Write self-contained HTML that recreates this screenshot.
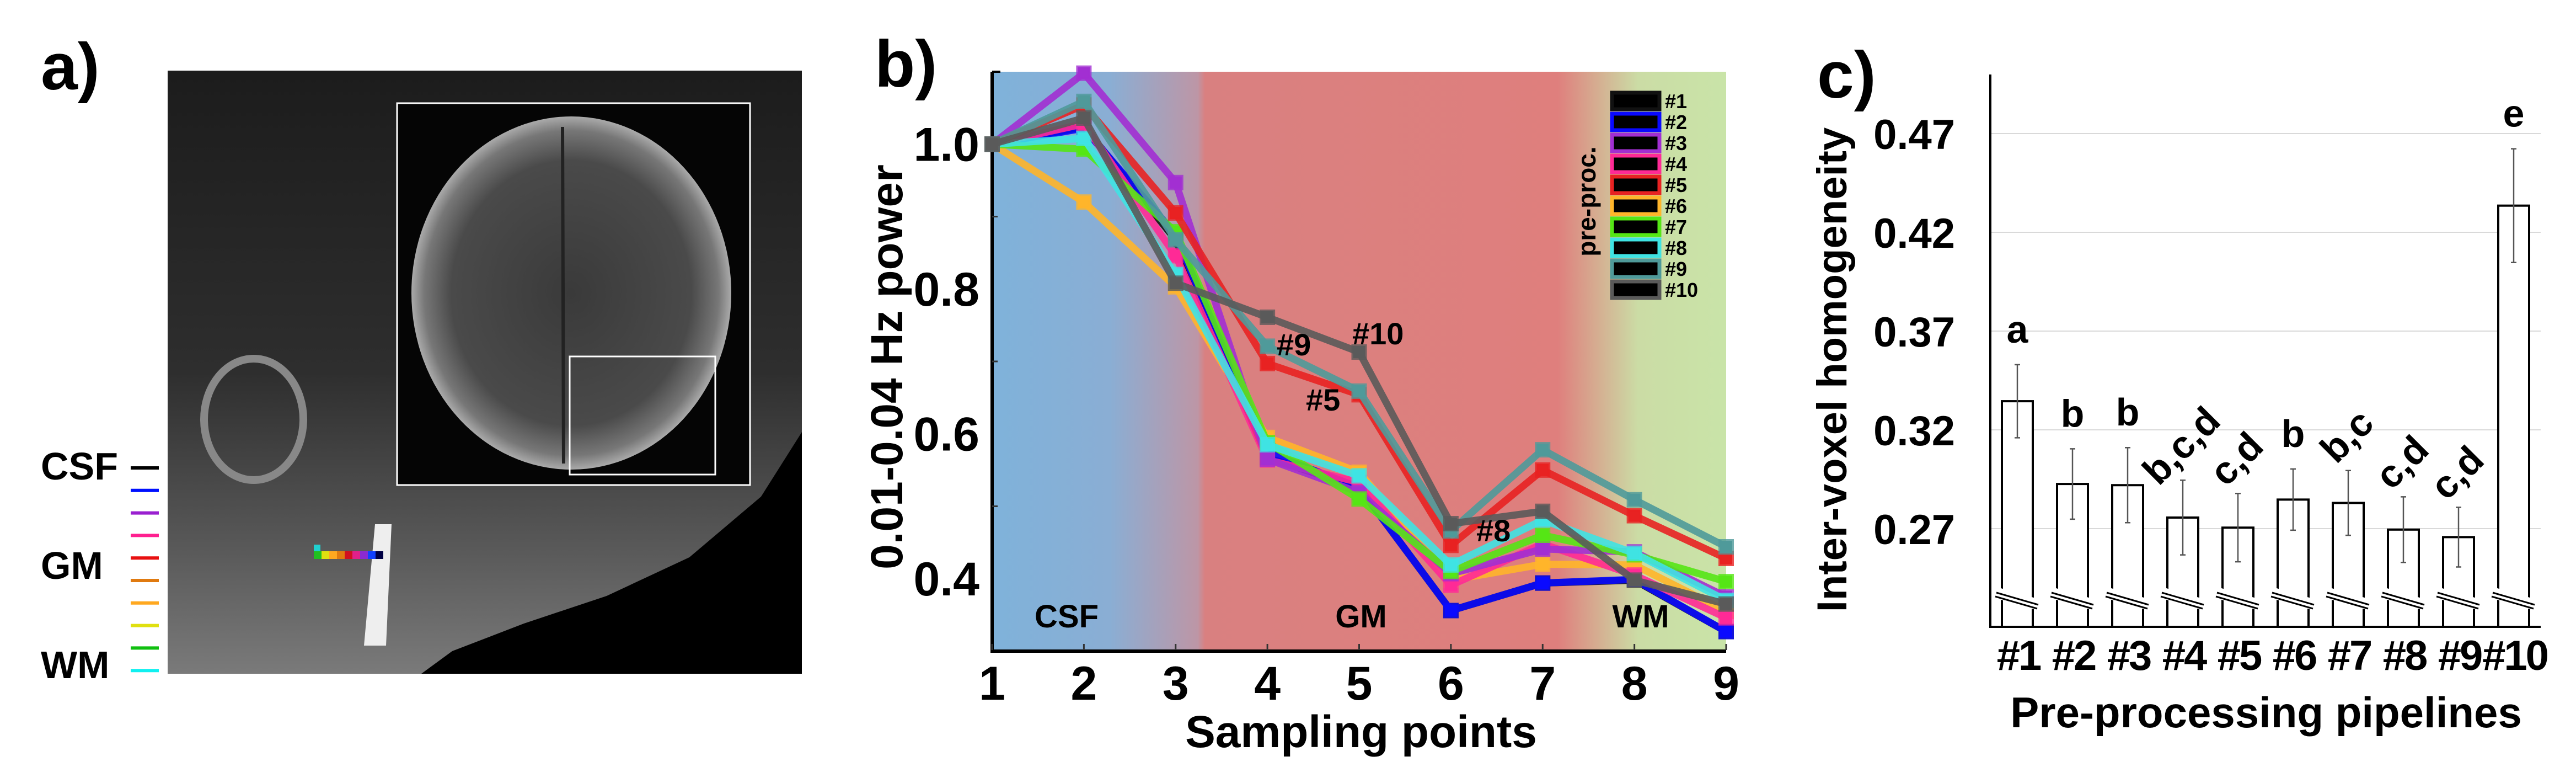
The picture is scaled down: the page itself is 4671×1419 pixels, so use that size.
<!DOCTYPE html>
<html><head><meta charset="utf-8"><style>
html,body{margin:0;padding:0;background:#fff;}
svg{display:block;}
text{font-family:"Liberation Sans",sans-serif;font-weight:bold;}
.nar{font-family:"Liberation Sans Narrow","Liberation Sans",sans-serif;}
</style></head><body>
<svg id="fig" width="4671" height="1419" viewBox="0 0 4671 1419" xmlns="http://www.w3.org/2000/svg">
<defs>
<linearGradient id="bgGrad" x1="1799" x2="3130" y1="0" y2="0" gradientUnits="userSpaceOnUse">
<stop offset="0" stop-color="#7fb2da"/><stop offset="0.16" stop-color="#8aaed4"/>
<stop offset="0.28" stop-color="#bd96a6"/><stop offset="0.29" stop-color="#d98080"/>
<stop offset="0.77" stop-color="#df7f7d"/><stop offset="0.88" stop-color="#cbdca5"/>
<stop offset="1" stop-color="#c9e4a8"/></linearGradient>
<radialGradient id="brainGrad" cx="0.5" cy="0.5" r="0.5"><stop offset="0" stop-color="#3a3a3a"/><stop offset="0.75" stop-color="#4a4a4a"/><stop offset="0.92" stop-color="#777"/><stop offset="1" stop-color="#aaa"/></radialGradient>
<linearGradient id="mriGrad" x1="0" y1="0" x2="0" y2="1"><stop offset="0" stop-color="#1c1c1c"/><stop offset="0.5" stop-color="#2e2e2e"/><stop offset="0.8" stop-color="#5a5a5a"/><stop offset="1" stop-color="#7a7a7a"/></linearGradient>
</defs>

<!-- Panel a -->
<g>
<text x="74" y="162" font-size="120">a)</text>
<rect x="304" y="128" width="1150" height="1093" fill="url(#mriGrad)"/>
<polygon points="1454,783 1380,900 1250,1010 1100,1080 950,1130 820,1180 764,1221 1454,1221" fill="#000"/>
<ellipse cx="460" cy="760" rx="90" ry="110" fill="none" stroke="#888" stroke-width="14"/>
<polygon points="680,950 710,950 700,1170 660,1170" fill="#eee"/>
<rect x="720" y="187" width="640" height="692" fill="#050505" stroke="#fff" stroke-width="3"/>
<ellipse cx="1036" cy="531" rx="290" ry="320" fill="url(#brainGrad)"/>
<line x1="1020" y1="230" x2="1022" y2="840" stroke="#222" stroke-width="6"/>
<rect x="1033" y="646" width="264" height="214" fill="none" stroke="#fff" stroke-width="3"/>
<g id="strip"></g>
<text x="74" y="869" font-size="70">CSF</text>
<text x="74" y="1049" font-size="70">GM</text>
<text x="74" y="1229" font-size="70">WM</text>
<g id="alegend"></g>
</g>

<!-- Panel b -->
<g id="pb">
<text x="1586" y="157" font-size="120">b)</text>
<rect x="1799" y="130" width="1331" height="1050" fill="url(#bgGrad)"/>
<text class="nar" x="1934" y="1137" font-size="58" text-anchor="middle">CSF</text>
<text class="nar" x="2468" y="1137" font-size="58" text-anchor="middle">GM</text>
<text class="nar" x="2975" y="1137" font-size="58" text-anchor="middle">WM</text>
<g id="bAxes"></g>
<g id="bSeries"></g>
<text class="nar" x="2315" y="644" font-size="56">#9</text>
<text class="nar" x="2452" y="624" font-size="56">#10</text>
<text class="nar" x="2368" y="744" font-size="56">#5</text>
<text class="nar" x="2677" y="981" font-size="56">#8</text>
<g id="bLegend"></g>
<text x="1608" y="665" font-size="82" text-anchor="middle" transform="rotate(-90 1608 665)" dy="28">0.01-0.04 Hz power</text>
<text x="2468" y="1354" font-size="82" text-anchor="middle">Sampling points</text>
</g>

<!-- Panel c -->
<g id="pc">
<text x="3295" y="177" font-size="120">c)</text>
<g id="cAxes"></g>
<g id="cBars"></g>
<text x="3322" y="670" font-size="76" text-anchor="middle" transform="rotate(-90 3322 670)" dy="26">Inter-voxel homogeneity</text>
<text x="4109" y="1318" font-size="78" text-anchor="middle">Pre-processing pipelines</text>
</g>
</svg>
<script>
// ---------- Panel b data ----------
const samplingPoints = [1,2,3,4,5,6,7,8,9];
const seriesNames = ['#1','#2','#3','#4','#5','#6','#7','#8','#9','#10'];
const seriesColors = ['#111111','#0a0aff','#a22fd2','#ff2a96','#e82222','#ffb52a','#55e615','#3fe3e3','#4f9a9a','#5a5a5a'];
const s1 = [1.0,1.024,0.868,0.567,0.526,0.356,0.394,0.398,0.327];
const s2 = [1.0,1.022,0.875,0.574,0.526,0.356,0.394,0.399,0.327];
const s3 = [1.0,1.098,0.947,0.565,0.519,0.407,0.441,0.437,0.375];
const s4 = [1.0,1.028,0.846,0.564,0.533,0.391,0.448,0.405,0.346];
const s5 = [1.0,1.054,0.905,0.697,0.654,0.446,0.550,0.487,0.428];
const s6 = [1.0,0.920,0.803,0.595,0.547,0.398,0.420,0.419,0.355];
const s7 = [1.0,0.993,0.879,0.588,0.510,0.410,0.460,0.433,0.396];
const s8 = [1.0,1.008,0.820,0.585,0.542,0.419,0.481,0.435,0.370];
const s9 = [1.0,1.059,0.868,0.721,0.659,0.466,0.578,0.509,0.444];
const s10 = [1.0,1.036,0.808,0.761,0.713,0.476,0.493,0.398,0.365];
const bYTicks = [0.4,0.6,0.8,1.0];
const bYTickLabels = ['0.4','0.6','0.8','1.0'];
const bYMinor = [0.5,0.7,0.9];

// ---------- Panel c data ----------
const pipelines = ['#1','#2','#3','#4','#5','#6','#7','#8','#9','#10'];
const homogeneity = [0.3345,0.2926,0.292,0.2756,0.2705,0.2847,0.283,0.2695,0.2657,0.4335];
const homogErr = [0.0185,0.0178,0.019,0.0189,0.0173,0.0155,0.0164,0.0166,0.0151,0.0288];
const sigLetters = ['a','b','b','b,c,d','c,d','b','b,c','c,d','c,d','e'];
const sigRotated = [false,false,false,true,true,false,true,true,true,false];
const cYTicks = [0.27,0.32,0.37,0.42,0.47];

const NS='http://www.w3.org/2000/svg';
function mk(tag, attrs, parent){const e=document.createElementNS(NS,tag);for(const k in attrs)e.setAttribute(k,attrs[k]);parent.appendChild(e);return e;}

// Panel b scales
const bx = v => 1799 + (v-1)*(3130-1799)/8;
const by = v => 1180 - (v-0.3)*(1180-130)/0.8;
const bAx = document.getElementById('bAxes');
let ax = mk('path',{d:'M1799 130 V1180 H3130',fill:'none',stroke:'#000','stroke-width':6},bAx);


let tt = mk('line',{x1:1799,y1:130,x2:1814,y2:130,stroke:'#000','stroke-width':4},bAx);


bYTicks.forEach((v,i)=>{
  const t = mk('text',{x:1776,y:by(v)+30,'font-size':86,'text-anchor':'end','class':'nar'},bAx);
  t.textContent = bYTickLabels[i];
  
  
});
bYMinor.forEach(v=>{
  const l = mk('line',{x1:1799,y1:by(v),x2:1809,y2:by(v),stroke:'#333','stroke-width':3},bAx);
  
  
});
samplingPoints.forEach(p=>{
  const l = mk('line',{x1:bx(p),y1:1167,x2:bx(p),y2:1178,stroke:'#333','stroke-width':3},bAx);
  
  
  const t = mk('text',{x:bx(p),y:1268,'font-size':86,'text-anchor':'middle','class':'nar'},bAx);
  t.textContent = String(p);
  
  
});
const allSeries=[s1,s2,s3,s4,s5,s6,s7,s8,s9,s10];
const drawOrder=[5,0,1,3,2,6,7,4,8,9];
const bS=document.getElementById('bSeries');
drawOrder.forEach(i=>{
  const g=mk('g',{},bS);
  
  
  const pts=allSeries[i].map((v,j)=>bx(samplingPoints[j])+','+by(v)).join(' ');
  const pl=mk('polyline',{points:pts,fill:'none',stroke:seriesColors[i],'stroke-width':13,'stroke-linejoin':'round','stroke-opacity':0.9},g);
  
  
  allSeries[i].forEach((v,j)=>{
    const r=mk('rect',{x:bx(samplingPoints[j])-11,y:by(v)-11,width:22,height:22,fill:seriesColors[i],stroke:seriesColors[i],'stroke-width':6,'stroke-opacity':0.8},g);
    
    
  });
});
// legend
const bL=document.getElementById('bLegend');
const pp=mk('text',{x:2877,y:365,'font-size':46,'text-anchor':'middle',transform:'rotate(-90 2877 365)',dy:16},bL);
pp.textContent='pre-proc.';


seriesNames.forEach((n,i)=>{
  const y=183+i*38;
  const r=mk('rect',{x:2923,y:y-15,width:86,height:30,fill:'#000',stroke:seriesColors[i],'stroke-width':7},bL);
  
  
  const t=mk('text',{x:3019,y:y+13,'font-size':36},bL);
  t.textContent=n;
  
  
});

// Panel c scales
const cx0=3658, cstep=100, cw=56;
const cyS = v => 958 - (v-0.27)*(958-242)/0.2;
const cA=document.getElementById('cAxes');
cYTicks.forEach(v=>{
  const l=mk('line',{x1:3609,y1:cyS(v),x2:4607,y2:cyS(v),stroke:'#d9d9d9','stroke-width':2},cA);
  
  
  const t=mk('text',{x:3545,y:cyS(v)+28,'font-size':76,'text-anchor':'end'},cA);
  t.textContent=v.toFixed(2);
  
  
});
const cax=mk('path',{d:'M3609 135 V1136 H4607',fill:'none',stroke:'#000','stroke-width':4},cA);


const cB=document.getElementById('cBars');
pipelines.forEach((p,i)=>{
  const x=cx0+i*cstep, v=homogeneity[i], e=homogErr[i];
  const bar=mk('rect',{x:x-cw/2,y:cyS(v),width:cw,height:1136-cyS(v),fill:'#fff',stroke:'#000','stroke-width':4},cB);
  
  
  const eb=mk('path',{d:`M${x} ${cyS(v+e)} V${cyS(v-e)} M${x-5} ${cyS(v+e)} H${x+5} M${x-5} ${cyS(v-e)} H${x+5}`,stroke:'#555','stroke-width':2.5,fill:'none'},cB);
  
  
  const bk=mk('g',{},cB);
  
  
  mk('rect',{x:x-cw/2-10,y:1075,width:cw+22,height:20,fill:'#fff',transform:`rotate(16 ${x} 1085)`},bk);
  mk('line',{x1:x-38,y1:1074,x2:x+38,y2:1096,stroke:'#000','stroke-width':3},bk);
  mk('line',{x1:x-40,y1:1081,x2:x+36,y2:1103,stroke:'#000','stroke-width':3},bk);
  const lbl=mk('text',{x:x+2,y:1214,'font-size':76,'text-anchor':'middle','letter-spacing':'-3'},cB);
  lbl.textContent=p;
  
  
  const ly=cyS(v+e)-40;
  const s=mk('text',{x:x,y:ly,'font-size':70,'text-anchor':'middle'},cB);
  if(sigRotated[i]) s.setAttribute('transform',`rotate(-45 ${x} ${ly-20})`);
  s.textContent=sigLetters[i];
  
  
});

// Panel a decorations
const stripColors=['#000044','#1040ff','#8a2ad0','#e0208a','#d01020','#e07a10','#ffa820','#e0e010','#20c020'];
const st=document.getElementById('strip');
stripColors.forEach((c,i)=>{
  const r=mk('rect',{x:695-(i+1)*14,y:999,width:14,height:14,fill:c},st);
  
  
});
const cy=mk('rect',{x:569,y:987,width:12,height:12,fill:'#20d0d0'},st);


const aLegColors=['#000','#0010ff','#9a20d0','#ff2090','#e81010','#e07a10','#ffa820','#e0e010','#10c010','#10f0f0'];
const aL=document.getElementById('alegend');
aLegColors.forEach((c,i)=>{
  const l=mk('line',{x1:237,x2:288,y1:848+i*40.8,y2:848+i*40.8,stroke:c,'stroke-width':6},aL);
  
  
});
</script>
</body></html>
